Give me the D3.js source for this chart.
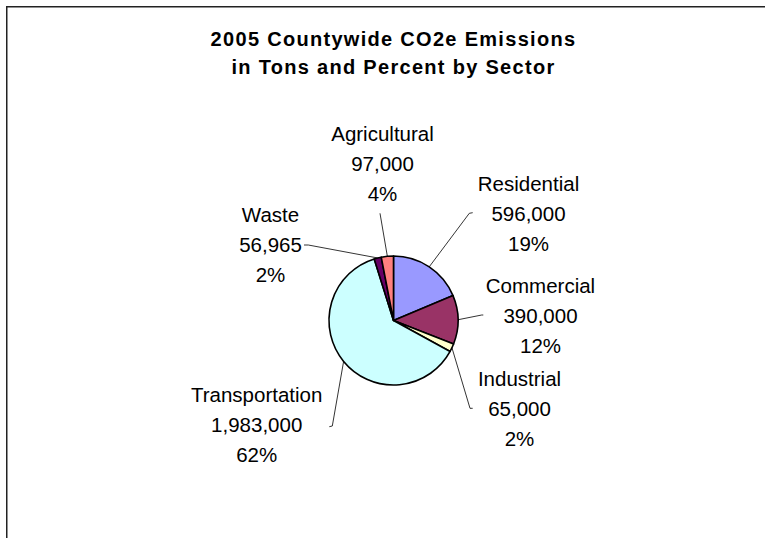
<!DOCTYPE html>
<html lang="en">
<head>
    <meta charset="UTF-8">
    <title>2005 Countywide CO2e Emissions</title>
    <script src="https://cdn.jsdelivr.net/npm/d3@7"></script>
    <style>
        body { margin: 0; background: #fff; }
        text { font-family: "Liberation Sans", Arial, sans-serif; fill: #000; }
    </style>
</head>
<body>
<script>
    // data
    const sectors = ['Residential', 'Commercial', 'Industrial', 'Transportation', 'Waste', 'Agricultural']
    const tons = [596000, 390000, 65000, 1983000, 56965, 97000]
    const percents = [19, 12, 2, 62, 2, 4]
    const colors = ['#9999FF', '#993366', '#FFFFCC', '#CCFFFF', '#660066', '#FF8080']
    const titleLines = ['2005 Countywide CO2e Emissions', 'in Tons and Percent by Sector']

    const [width, height] = [765, 538]
    const [cx, cy, radius] = [393.5, 320.5, 64.5]
    const lineGap = 30

    // where each label block sits (centre x, first baseline) and the leader elbow/end
    const labelLayout = [
        {x: 528.5, y: 190.7, elbow: [469.3, 213.3], end: [472.7, 212.7]},
        {x: 540.5, y: 292.7, elbow: [481.7, 315], end: [483.3, 315]},
        {x: 519.5, y: 386, elbow: [470, 408.3], end: [472.7, 408.3]},
        {x: 256.7, y: 402.3, elbow: [332.3, 426], end: [329.3, 426.7]},
        {x: 270.5, y: 222.3, elbow: [308.3, 245], end: [304, 245]},
        {x: 382.5, y: 140.7, elbow: [380, 213.3], end: [380, 213.3]}
    ]

    const svg = d3.select('body').append('svg').attr('width', width).attr('height', height)

    // chart area frame (right and bottom edges fall outside the picture)
    svg.append('rect')
        .attr('x', 6.75).attr('y', 6.75)
        .attr('width', width + 20).attr('height', height + 20)
        .attr('fill', 'none').attr('stroke', '#222').attr('stroke-width', 1.5)

    svg.append('g').selectAll('text').data(titleLines).join('text')
        .attr('x', 393.5)
        .attr('y', (d, i) => 46 + i * 28.3)
        .attr('text-anchor', 'middle')
        .attr('font-size', '20px')
        .attr('font-weight', 'bold')
        .attr('letter-spacing', '1.3px')
        .text(d => d)

    const data = sectors.map((s, i) => ({sector: s, value: tons[i], pct: percents[i], color: colors[i], layout: labelLayout[i]}))
    const pie = d3.pie().value(d => d.value).sort(null)
    const arc = d3.arc().innerRadius(0).outerRadius(radius)
    const arcs = pie(data)

    const g = svg.append('g').attr('transform', `translate(${cx}, ${cy})`)
    g.selectAll('path').data(arcs).join('path')
        .attr('d', arc)
        .attr('fill', d => d.data.color)
        .attr('stroke', '#000')
        .attr('stroke-width', 1.6)
        .attr('stroke-linejoin', 'round')

    // leader lines from slice edge to label
    svg.append('g').selectAll('polyline').data(arcs).join('polyline')
        .attr('points', d => {
            const a = (d.startAngle + d.endAngle) / 2
            const p = [cx + radius * Math.sin(a), cy - radius * Math.cos(a)]
            return [p, d.data.layout.elbow, d.data.layout.end].map(q => q.join(',')).join(' ')
        })
        .attr('fill', 'none')
        .attr('stroke', '#000')
        .attr('stroke-width', 0.8)

    const fmt = d3.format(',')
    const labels = svg.append('g').selectAll('text').data(data).join('text')
        .attr('text-anchor', 'middle')
        .attr('font-size', '20.5px')
    labels.selectAll('tspan').data(d => [d.sector, fmt(d.value), d.pct + '%'].map((t, i) => ({t, i, l: d.layout})))
        .join('tspan')
        .attr('x', d => d.l.x)
        .attr('y', d => d.l.y + d.i * lineGap)
        .text(d => d.t)
</script>
</body>
</html>
